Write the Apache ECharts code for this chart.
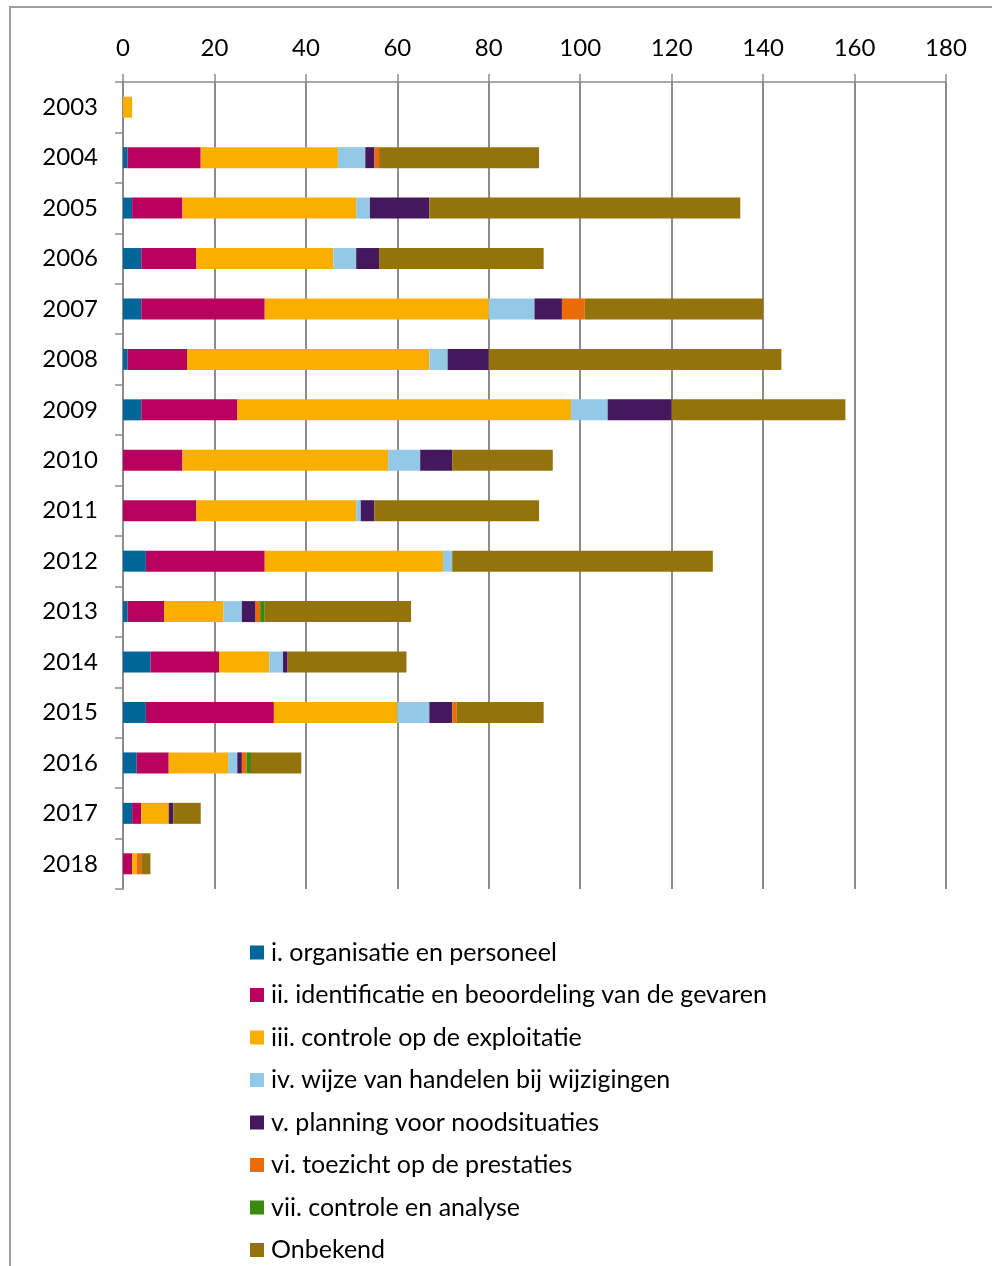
<!DOCTYPE html>
<html><head><meta charset="utf-8">
<script src="https://cdn.jsdelivr.net/npm/echarts@6/dist/echarts.min.js"></script>
<style>html,body{margin:0;padding:0;background:#fff}#c{width:992px;height:1266px}</style>
</head><body><div id="c"></div>
<script>
const years = ['2003','2004','2005','2006','2007','2008','2009','2010','2011','2012','2013','2014','2015','2016','2017','2018'];
const seriesNames = ['i. organisatie en personeel','ii. identificatie en beoordeling van de gevaren','iii. controle op de exploitatie','iv. wijze van handelen bij wijzigingen','v. planning voor noodsituaties','vi. toezicht op de prestaties','vii. controle en analyse','Onbekend'];
const sI   = [0, 1, 2, 4, 4, 1, 4, 0, 0, 5, 1, 6, 5, 3, 2, 0];
const sII  = [0,16,11,12,27,13,21,13,16,26, 8,15,28, 7, 2, 2];
const sIII = [2,30,38,30,49,53,73,45,35,39,13,11,27,13, 6, 1];
const sIV  = [0, 6, 3, 5,10, 4, 8, 7, 1, 2, 4, 3, 7, 2, 0, 0];
const sV   = [0, 2,13, 5, 6, 9,14, 7, 3, 0, 3, 1, 5, 1, 1, 0];
const sVI  = [0, 1, 0, 0, 5, 0, 0, 0, 0, 0, 1, 0, 1, 1, 0, 1];
const sVII = [0, 0, 0, 0, 0, 0, 0, 0, 0, 0, 1, 0, 0, 1, 0, 0];
const sOnb = [0,35,68,36,39,64,38,22,36,57,32,26,19,11, 6, 2];
const xTicks = [0,20,40,60,80,100,120,140,160,180];
const colors = ['#00669A','#B8005F','#F9AE00','#93C9E6','#45175D','#EB6C06','#3A8A12','#94730C'];
const allData = [sI,sII,sIII,sIV,sV,sVI,sVII,sOnb];
const FONT = 'Lato';
const chart = echarts.init(document.getElementById('c'), null, {renderer:'canvas'});
chart.setOption({
  animation:false,
  textStyle:{fontFamily:FONT},
  color: colors,
  graphic:[{type:'rect', shape:{x:10,y:7,width:1000,height:1300}, style:{fill:'none', stroke:'#a0a0a0', lineWidth:2}, z:-1}],
  grid:{left:123, top:82, right:46, height:807},
  xAxis:{type:'value', position:'top', min:0, max:180, interval:20,
    axisLine:{show:true, lineStyle:{color:'#8c8c8c', width:1.5}},
    axisTick:{show:true, length:8, lineStyle:{color:'#8c8c8c', width:1.5}},
    splitLine:{show:true, lineStyle:{color:'#8c8c8c', width:2}},
    axisLabel:{color:'#000', fontSize:24, fontFamily:FONT, margin:22,
      formatter: v => xTicks.includes(v) ? String(v) : ''}},
  yAxis:{type:'category', data:years, inverse:true,
    axisLine:{show:true, lineStyle:{color:'#8c8c8c', width:1.5}},
    axisTick:{show:true, length:8, lineStyle:{color:'#8c8c8c', width:1.5}},
    axisLabel:{color:'#000', fontSize:24, fontFamily:FONT, margin:25}},
  legend:{orient:'vertical', left:250, top:940, height:326, padding:0, itemWidth:14, itemHeight:14, itemGap:17.5, icon:'rect',
    textStyle:{fontSize:25, color:'#000', fontFamily:FONT, padding:[0,0,0,2], lineHeight:25}},
  series: seriesNames.map((n,i)=>({name:n, type:'bar', stack:'t', barWidth:21, data:allData[i], itemStyle:{color:colors[i]}}))
});
</script></body></html>
